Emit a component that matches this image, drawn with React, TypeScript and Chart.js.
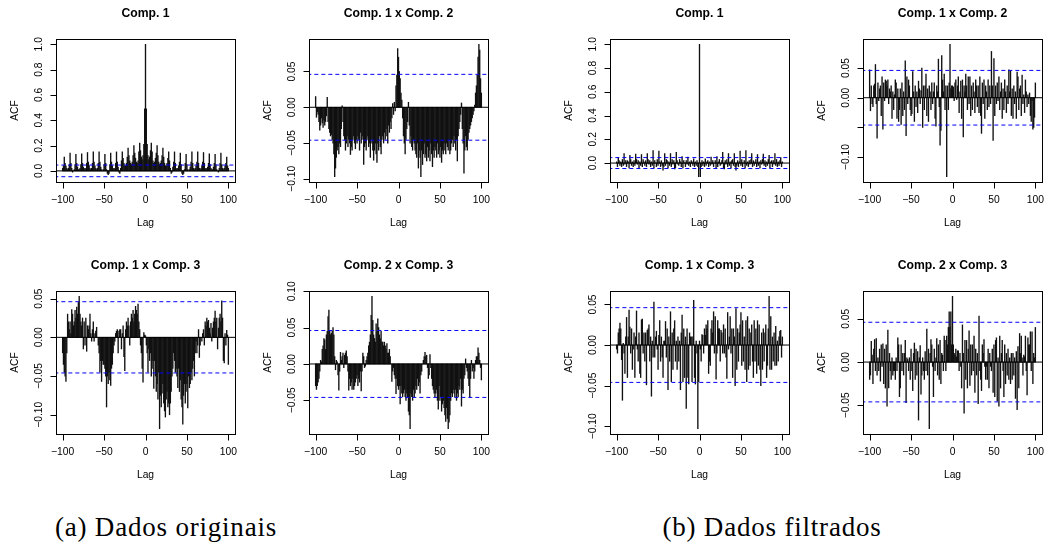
import React, { useEffect, useRef } from "react";
import { Chart, registerables } from "chart.js";

Chart.register(...registerables);

// ---------------- data ----------------
const LAGS: number[] = Array.from({ length: 201 }, (_, i) => i - 100);
const CLIM = 0.046;
const X_TICKS = [-100, -50, 0, 50, 100];
const X_TICK_LABELS = ["\u2212100", "\u221250", "0", "50", "100"];

const Y_TICKS_UNIT = [0, 0.2, 0.4, 0.6, 0.8, 1.0];
const Y_LABELS_UNIT = ["0.0", "0.2", "0.4", "0.6", "0.8", "1.0"];
const Y_TICKS_A = [-0.1, -0.05, 0, 0.05];
const Y_LABELS_A = ["\u22120.10", "\u22120.05", "0.00", "0.05"];
const Y_TICKS_B = [-0.05, 0, 0.05, 0.1];
const Y_LABELS_B = ["\u22120.05", "0.00", "0.05", "0.10"];
const Y_LABELS_A_SKIP = ["\u22120.10", "", "0.00", "0.05"];
const Y_TICKS_C = [-0.05, 0, 0.05];
const Y_LABELS_C = ["\u22120.05", "0.00", "0.05"];

// lags -100 .. 100
const ORIG_C1 = [
  .02, .04, .11, .06, .04, .02, .01, .02, .05, .14,
  .06, .02, -.01, 0, .01, .05, .13, .06, .03, .01,
  .01, .02, .05, .135, .06, .03, .02, .01, .02, .06,
  .145, .07, .04, .02, .01, .02, .06, .15, .07, .04,
  .02, .01, .02, .06, .15, .07, .03, .01, 0, .01,
  .05, .13, .06, .01, -.02, -.03, -.02, .05, .14, .07,
  .04, .02, .01, .02, .06, .15, .07, .03, -.01, -.02,
  .02, .08, .15, .10, .06, .04, .04, .06, .11, .18,
  .12, .08, .06, .05, .07, .12, .20, .14, .10, .07,
  .06, .08, .15, .22, .16, .11, .09, .12, .21, .49,
  1, .49, .21, .12, .09, .11, .16, .22, .15, .08,
  .06, .07, .10, .14, .20, .12, .07, .05, .06, .08,
  .12, .18, .11, .06, .04, .04, .06, .10, .15, .08,
  .02, -.02, -.01, .03, .07, .15, .06, .02, .01, .02,
  .04, .07, .14, .05, -.02, -.03, -.02, .01, .06, .13,
  .05, .01, 0, .01, .03, .07, .15, .06, .02, .01,
  .02, .04, .07, .15, .06, .02, .01, .02, .04, .07,
  .145, .06, .02, .01, .02, .03, .06, .135, .05, .02,
  .01, .01, .03, .06, .13, .05, .01, 0, -.01, .02,
  .06, .14, .05, .02, .01, .02, .04, .06, .11, .04,
  .02,
];

const ORIG_C12 = [
  .015, -.014, -.006, -.01, -.02, -.032, -.025, -.015, -.022, -.028,
  -.018, -.025, -.02, -.012, .014, -.02, -.03, -.035, -.04, -.038,
  -.045, -.05, -.065, -.097, -.085, -.07, -.06, -.055, -.065, -.05,
  -.055, -.03, .002, -.02, -.04, -.045, -.06, -.05, -.04, -.055,
  -.045, -.05, -.066, -.055, -.06, -.045, -.04, -.05, -.058, -.045,
  -.05, -.04, -.045, -.06, -.035, -.05, -.045, -.04, -.08, -.055,
  -.05, -.06, -.045, -.04, -.055, -.05, -.07, -.045, -.05, -.06,
  -.074, -.06, -.05, -.065, -.077, -.05, -.06, -.04, -.055, -.065,
  -.045, -.04, -.05, -.035, -.045, -.03, -.04, -.05, -.025, -.035,
  -.02, -.03, -.015, .005, -.01, .007, -.005, .03, .045, .082,
  .07, .05, .04, .02, .01, -.015, -.04, -.05, -.065, -.045,
  -.03, -.02, .007, -.025, -.05, -.04, -.055, -.06, -.045, -.05,
  -.06, -.065, -.07, -.05, -.085, -.06, -.07, -.097, -.06, -.08,
  -.065, -.05, -.07, -.065, -.075, -.055, -.07, -.06, -.075, -.05,
  -.065, -.083, -.06, -.07, -.055, -.06, -.07, -.05, -.065, -.06,
  -.07, -.055, -.077, -.06, -.065, -.05, -.06, -.065, -.05, -.055,
  -.06, -.045, -.065, -.06, -.05, -.045, -.055, -.04, -.05, -.06,
  -.045, -.075, -.04, -.03, -.02, -.01, .006, -.03, -.05, -.092,
  -.06, -.04, -.055, -.06, -.045, -.035, -.03, -.025, -.02, -.015,
  -.01, -.005, .003, .02, .03, .045, .07, .088, .08, .04,
  .02,
];

const ORIG_C13 = [
  -.02, -.035, -.045, -.05, -.057, -.02, .03, .02, .01, .02,
  .005, .036, .03, .015, .02, .035, .025, .039, .03, .045,
  .053, .03, .02, .015, .025, -.015, .02, -.01, .025, -.018,
  .015, .01, .015, .03, .005, -.005, .01, .02, -.005, .005,
  .008, .013, 0, -.01, -.02, -.045, -.03, -.057, -.03, -.035,
  -.035, -.04, -.05, -.09, -.05, -.06, -.045, -.055, -.062, -.04,
  -.035, -.02, -.01, -.005, .005, .008, .01, -.02, .008, .01,
  .01, -.015, .005, .015, -.025, -.043, .01, .02, .015, .025,
  .015, -.01, .02, .03, .025, .035, .02, .03, .04, .035,
  .03, .043, .02, .01, -.01, -.02, -.04, -.058, .006, .003,
  .002, -.01, -.02, -.045, -.015, -.03, -.02, -.05, -.04, -.03,
  -.066, -.03, -.05, -.07, -.06, -.08, -.045, -.118, -.075, -.09,
  -.072, -.06, -.085, -.095, -.103, -.08, -.07, -.09, -.085, -.1,
  -.085, -.07, -.05, -.04, -.02, -.03, -.045, -.04, -.05, -.065,
  -.04, -.07, -.055, -.08, -.09, -.112, -.075, -.06, -.085, -.07,
  -.06, -.091, -.05, -.065, -.06, -.045, -.055, -.04, -.03, -.05,
  -.02, -.005, -.02, -.01, .01, -.026, -.01, 0, -.005, .005,
  .01, -.01, .02, .015, .025, .02, .022, .012, .005, .018,
  -.005, .012, .02, .025, .034, .02, .025, -.015, .012, .025,
  .03, .02, .047, .025, -.03, -.033, .005, -.01, .009, .003,
  -.035,
];

const ORIG_C23 = [
  -.03, -.035, -.03, -.025, -.02, -.01, .005, .003, .02, .025,
  .035, .033, .02, .04, .045, .065, .074, .045, .04, .042,
  .045, .05, .04, .01, -.008, .005, .003, -.015, -.036, -.01,
  .016, .005, .01, .015, -.005, .012, .015, .018, .01, -.01,
  -.036, -.02, -.03, -.025, -.035, -.02, -.035, -.03, -.025, -.02,
  -.015, -.03, -.02, -.025, -.01, -.037, -.01, .015, .01, -.005,
  -.003, .005, .01, .015, .025, .03, .04, .067, .093, .06,
  .04, .035, .03, .055, .045, .062, .05, .04, .035, .045,
  .03, .03, .025, .03, .025, .02, .028, .015, .015, .02,
  .01, 0, -.024, -.01, -.005, -.015, -.02, -.041, -.02, -.03,
  -.035, -.03, -.055, -.03, -.04, -.045, -.04, -.035, -.045, -.05,
  -.04, -.045, -.065, -.07, -.089, -.04, -.045, -.05, -.035, -.045,
  -.04, -.03, -.035, -.02, -.03, -.025, -.04, -.015, -.01, 0,
  .005, .01, .016, .01, .012, -.005, -.02, -.015, .013, -.005,
  -.02, -.03, -.035, -.04, -.045, -.04, -.035, -.05, -.062, -.03,
  -.05, -.045, -.065, -.055, -.05, -.06, -.07, -.079, -.06, -.075,
  -.089, -.08, -.07, -.05, -.04, -.045, -.035, -.04, -.045, -.035,
  -.05, -.04, -.045, -.03, -.035, -.02, -.058, -.035, -.04, -.02,
  -.015, .007, -.005, -.01, -.02, -.03, -.046, -.02, .005, -.01,
  -.005, -.02, -.01, .005, .01, .01, .022, .015, .005, -.005,
  -.022,
];

const FILT_C1 = [
  .01, -.03, .045, .02, -.02, .01, -.03, .03, -.02, .08,
  -.01, .02, -.03, .02, .01, -.04, .065, .03, -.02, .01,
  -.03, .02, -.02, .075, .03, -.01, .02, -.04, .01, -.02,
  .072, -.03, .03, .01, -.02, .02, -.03, .08, .03, -.01,
  .02, -.03, .01, -.02, .105, -.04, .02, 0, -.03, .03,
  -.02, .10, .01, -.03, .02, -.02, -.06, -.03, .08, -.02,
  .03, .02, -.04, .01, -.02, .08, -.03, .03, -.01, .02,
  -.05, -.04, .09, .02, -.01, -.02, .03, .01, -.03, .055,
  -.04, .02, 0, -.03, .02, -.01, .05, -.02, .01, -.03,
  .02, .01, -.02, .035, -.03, .01, -.02, .02, -.03, -.115,
  1, -.115, -.03, .02, -.02, .01, -.03, .035, -.02, .01,
  .02, -.03, .01, -.02, .05, -.01, .02, -.03, 0, .02,
  -.04, .055, -.03, .01, .03, -.02, -.01, .02, .09, -.04,
  -.05, .02, -.01, .03, -.03, .08, -.02, .01, -.04, .02,
  .03, -.02, .08, -.03, -.06, -.02, .02, -.03, .01, .10,
  -.02, .03, -.03, 0, .02, -.04, .105, -.02, .01, -.03,
  .02, -.01, .03, .08, -.03, .02, -.02, .01, .03, -.03,
  .072, -.02, .01, -.04, .02, -.01, .03, .075, -.02, .02,
  -.03, .01, -.02, .03, .065, -.04, .01, .02, -.03, .02,
  -.01, .08, -.02, .03, -.03, .01, -.02, .02, .045, -.03,
  .01,
];

const FILT_C12 = [
  .047, -.022, .02, -.01, -.015, .02, .023, .056, -.01, -.068,
  .025, -.005, .015, .02, -.03, .035, -.053, .025, -.005, .03,
  .028, .02, .03, -.01, .015, .01, .02, -.035, .01, -.02,
  .005, .03, .025, -.035, .015, -.04, -.02, .015, -.045, .025,
  -.03, .01, -.02, .062, -.064, .035, -.01, .03, .02, -.02,
  -.03, -.027, .044, .01, -.04, .02, -.015, .01, -.025, .028,
  .015, -.01, .012, .05, -.05, .02, -.02, .02, .04, -.03,
  .015, -.04, .02, .01, -.02, .025, -.01, .01, .025, -.035,
  -.048, .02, .01, .065, -.015, -.08, -.055, .071, .03, .01,
  .04, -.02, .02, -.133, .02, -.02, .025, .09, .015, .02,
  .02, .018, -.005, .025, .03, -.003, .02, .035, -.025, .01,
  .028, -.035, .03, -.066, .02, .01, .04, .02, -.02, .035,
  -.01, .035, -.03, .02, -.02, .025, .01, -.025, .03, .02,
  -.015, .02, -.025, .035, -.03, -.06, .025, -.01, .03, -.035,
  .02, .01, -.02, .03, -.015, .02, -.01, .078, .02, -.072,
  .066, -.03, .02, -.01, .025, -.005, .035, -.02, .01, .025,
  -.035, .015, -.02, .03, .01, -.025, .02, -.01, .047, .01,
  .045, -.03, .015, -.035, .02, -.01, .01, -.035, .043, .035,
  -.02, .015, .02, -.03, .038, -.01, .005, -.025, .03, .01,
  -.015, .005, -.01, .008, -.03, -.04, -.005, -.053, -.05, -.033,
  .025,
];

const FILT_C13 = [
  -.005, -.01, .015, .02, .027, .02, -.018, -.068, .002, -.01,
  -.035, .01, .034, -.04, .01, .043, .022, -.01, .02, -.03,
  -.005, .015, -.04, .01, .042, -.005, -.02, .015, -.035, -.04,
  .031, .032, -.01, .015, -.02, .015, -.049, .018, .02, .025,
  -.02, .01, -.063, .005, -.015, .053, -.015, .01, .017, -.005,
  -.03, .012, .03, -.02, .01, -.015, -.04, .005, .005, .029,
  -.015, .02, -.055, .01, -.02, .041, -.045, .015, -.03, .02,
  .03, -.02, .005, -.03, .01, -.02, .005, -.055, .015, .037,
  -.045, .02, -.04, .01, -.078, .02, -.04, -.048, .015, .01,
  .01, -.045, .01, .055, -.04, -.048, .005, -.01, -.103, -.045,
  .005, -.005, -.02, .013, .012, -.01, .02, .012, .025, .02,
  .03, -.035, -.02, -.025, .02, .03, .015, .041, -.01, .035,
  -.042, -.01, .03, .02, .02, -.02, .018, .015, -.01, .025,
  -.01, .02, -.015, -.041, .04, -.005, .01, .035, -.01, .02,
  -.04, .02, .01, -.05, .045, -.03, .02, -.02, .015, .025,
  .04, -.025, .03, -.02, .01, -.03, .03, -.045, .035, -.03,
  .02, -.025, .015, .025, -.02, -.04, .03, -.02, .02, -.035,
  .03, -.025, .025, -.03, -.05, .015, -.03, .02, -.02, .015,
  .025, -.04, -.025, .02, .06, -.03, .035, -.03, .01, -.02,
  .015, -.025, .023, -.025, .005, -.02, .01, .017, .018, -.015,
  .01,
];

const FILT_C23 = [
  -.02, -.015, .024, .008, -.025, .015, .026, -.01, .027, -.015,
  .005, -.01, .015, -.022, .02, -.005, .021, -.025, .015, -.03,
  .02, -.051, .037, -.03, .01, -.01, -.02, .005, -.015, -.01,
  -.01, -.02, .005, -.01, .028, .02, -.04, -.03, .02, -.01,
  .01, -.015, .01, .025, -.047, .005, .003, -.01, .005, -.02,
  .015, -.01, -.033, .01, .022, -.02, .015, -.015, .012, -.067,
  .005, .019, -.037, -.015, .005, -.01, -.02, .012, -.01, .038,
  -.015, .015, -.077, .01, .026, .02, -.005, -.04, .015, -.01,
  .005, .027, -.015, .02, -.02, .025, -.025, .01, .008, -.01,
  .03, .025, -.01, .03, .02, .04, .058, .04, .058, .02,
  .076, .02, .01, .008, .015, .006, .013, .013, -.01, .01,
  -.005, -.03, .043, .01, -.059, .025, -.02, .025, -.03, .015,
  .036, -.027, .02, -.015, .02, -.01, .03, -.035, .015, -.015,
  .01, -.048, .053, -.01, -.02, -.033, .02, .01, .026, -.005,
  -.02, -.005, -.02, .015, -.03, .01, -.005, -.01, .015, -.035,
  .02, -.04, .025, .028, -.045, .005, -.051, .03, -.03, .01,
  .025, -.01, -.04, .02, -.025, .01, -.015, .015, -.02, .005,
  -.025, .01, -.02, .01, -.015, .005, -.042, .012, -.055, .018,
  -.03, .033, .01, .03, .005, -.015, .008, .006, .03, -.01,
  -.038, .028, .02, .02, .035, -.01, .035, -.025, .01, .005,
  .04,
];

const CAPTION_A = "(a) Dados originais";
const CAPTION_B = "(b) Dados filtrados";

// ---------------- layout ----------------
type PanelDef = {
  key: string;
  title: string;
  values: number[];
  yTicks: number[];
  yLabels: string[];
  left: number;
  top: number;
};

const PANEL_W = 253;
const PANEL_H = 252;

const PANELS: PanelDef[] = [
  { key: "a1", title: "Comp. 1", values: ORIG_C1, yTicks: Y_TICKS_UNIT, yLabels: Y_LABELS_UNIT, left: 0, top: 0 },
  { key: "a2", title: "Comp. 1 x Comp. 2", values: ORIG_C12, yTicks: Y_TICKS_A, yLabels: Y_LABELS_A, left: 253, top: 0 },
  { key: "a3", title: "Comp. 1 x Comp. 3", values: ORIG_C13, yTicks: Y_TICKS_A, yLabels: Y_LABELS_A, left: 0, top: 252 },
  { key: "a4", title: "Comp. 2 x Comp. 3", values: ORIG_C23, yTicks: Y_TICKS_B, yLabels: Y_LABELS_B, left: 253, top: 252 },
  { key: "b1", title: "Comp. 1", values: FILT_C1, yTicks: Y_TICKS_UNIT, yLabels: Y_LABELS_UNIT, left: 554, top: 0 },
  { key: "b2", title: "Comp. 1 x Comp. 2", values: FILT_C12, yTicks: Y_TICKS_A, yLabels: Y_LABELS_A_SKIP, left: 807, top: 0 },
  { key: "b3", title: "Comp. 1 x Comp. 3", values: FILT_C13, yTicks: Y_TICKS_A, yLabels: Y_LABELS_A, left: 554, top: 252 },
  { key: "b4", title: "Comp. 2 x Comp. 3", values: FILT_C23, yTicks: Y_TICKS_C, yLabels: Y_LABELS_C, left: 807, top: 252 },
];

const SANS = "'Liberation Sans', Arial, Helvetica, sans-serif";

// R-like y limits: range of data and confidence bounds, extended by 4%
function rYLim(values: number[]): [number, number] {
  const lo = Math.min(-CLIM, ...values);
  const hi = Math.max(CLIM, ...values);
  const pad = 0.04 * (hi - lo);
  return [lo - pad, hi + pad];
}

const rAxesPlugin = {
  id: "rAxes",
  afterDraw(chart: any, _args: any, opts: any) {
    const { ctx, chartArea: a, scales } = chart;
    const xs = scales.x;
    const ys = scales.y;
    ctx.save();
    ctx.strokeStyle = "#000";
    ctx.fillStyle = "#000";
    ctx.lineWidth = 1;
    const L = Math.round(a.left) + 0.5;
    const R = Math.round(a.right) + 0.5;
    const T = Math.round(a.top) + 0.5;
    const B = Math.round(a.bottom) + 0.5;
    ctx.strokeRect(L, T, R - L, B - T);

    // x ticks
    ctx.beginPath();
    X_TICKS.forEach((v) => {
      const px = Math.round(xs.getPixelForValue(v)) + 0.5;
      ctx.moveTo(px, B);
      ctx.lineTo(px, B + 6);
    });
    // y ticks
    (opts.yTicks as number[]).forEach((v) => {
      const py = Math.round(ys.getPixelForValue(v)) + 0.5;
      ctx.moveTo(L, py);
      ctx.lineTo(L - 6, py);
    });
    ctx.stroke();

    ctx.font = `10.3px ${SANS}`;
    ctx.textAlign = "center";
    ctx.textBaseline = "middle";
    X_TICKS.forEach((v, i) => {
      ctx.fillText(X_TICK_LABELS[i], xs.getPixelForValue(v), a.bottom + 18.5);
    });
    (opts.yTicks as number[]).forEach((v, i) => {
      const lab = opts.yLabels[i];
      if (!lab) return;
      ctx.save();
      ctx.translate(a.left - 16.5, ys.getPixelForValue(v));
      ctx.rotate(-Math.PI / 2);
      ctx.fillText(lab, 0, 0);
      ctx.restore();
    });

    // axis titles
    ctx.fillText("Lag", (a.left + a.right) / 2, a.bottom + 41.5);
    ctx.save();
    ctx.translate(a.left - 40.5, (a.top + a.bottom) / 2);
    ctx.rotate(-Math.PI / 2);
    ctx.fillText("ACF", 0, 0);
    ctx.restore();

    // main title
    ctx.font = `bold 12.2px ${SANS}`;
    ctx.fillText(opts.title, (a.left + a.right) / 2, 13.5);
    ctx.restore();
  },
};

function Panel({ def }: { def: PanelDef }) {
  const ref = useRef<HTMLCanvasElement | null>(null);
  useEffect(() => {
    if (!ref.current) return;
    const [yMin, yMax] = rYLim(def.values);
    const hline = (y: number) => [
      { x: -110, y },
      { x: 110, y },
    ];
    const chart = new Chart(ref.current, {
      type: "bar",
      data: {
        datasets: [
          {
            type: "bar",
            data: LAGS.map((l, i) => ({ x: l, y: def.values[i] })),
            backgroundColor: "#111",
            borderWidth: 0,
            barThickness: 0.7,
            order: 3,
          } as any,
          {
            type: "line",
            data: hline(0),
            borderColor: "#000",
            borderWidth: 1,
            pointRadius: 0,
            order: 2,
          } as any,
          {
            type: "line",
            data: hline(CLIM),
            borderColor: "#0000ff",
            borderWidth: 1,
            borderDash: [4, 3],
            pointRadius: 0,
            order: 1,
          } as any,
          {
            type: "line",
            data: hline(-CLIM),
            borderColor: "#0000ff",
            borderWidth: 1,
            borderDash: [4, 3],
            pointRadius: 0,
            order: 1,
          } as any,
        ],
      },
      options: {
        responsive: false,
        animation: false,
        events: [],
        layout: { padding: { left: 56, right: 18, top: 39, bottom: 70 } },
        scales: {
          x: { type: "linear", min: -108, max: 108, offset: false, display: false },
          y: { type: "linear", min: yMin, max: yMax, display: false },
        },
        plugins: {
          legend: { display: false },
          tooltip: { enabled: false },
          title: { display: false },
          rAxes: { title: def.title, yTicks: def.yTicks, yLabels: def.yLabels },
        } as any,
      },
      plugins: [rAxesPlugin],
    });
    return () => chart.destroy();
  }, [def]);
  return (
    <canvas
      ref={ref}
      width={PANEL_W}
      height={PANEL_H}
      style={{ position: "absolute", left: def.left, top: def.top, width: PANEL_W, height: PANEL_H }}
    />
  );
}

const captionStyle: React.CSSProperties = {
  position: "absolute",
  top: 510,
  width: 320,
  textAlign: "center",
  fontFamily: "'Liberation Serif', 'DejaVu Serif', serif",
  fontSize: 27,
  letterSpacing: 0.8,
  lineHeight: "34px",
  color: "#000",
  whiteSpace: "nowrap",
};

export default function App() {
  return (
    <div
      style={{
        position: "absolute",
        left: 0,
        top: 0,
        width: 1045,
        height: 546,
        background: "#fff",
        overflow: "hidden",
      }}
    >
      {PANELS.map((p) => (
        <Panel key={p.key} def={p} />
      ))}
      <div style={{ ...captionStyle, left: 166 - 160 }}>{CAPTION_A}</div>
      <div style={{ ...captionStyle, left: 772 - 160 }}>{CAPTION_B}</div>
    </div>
  );
}
